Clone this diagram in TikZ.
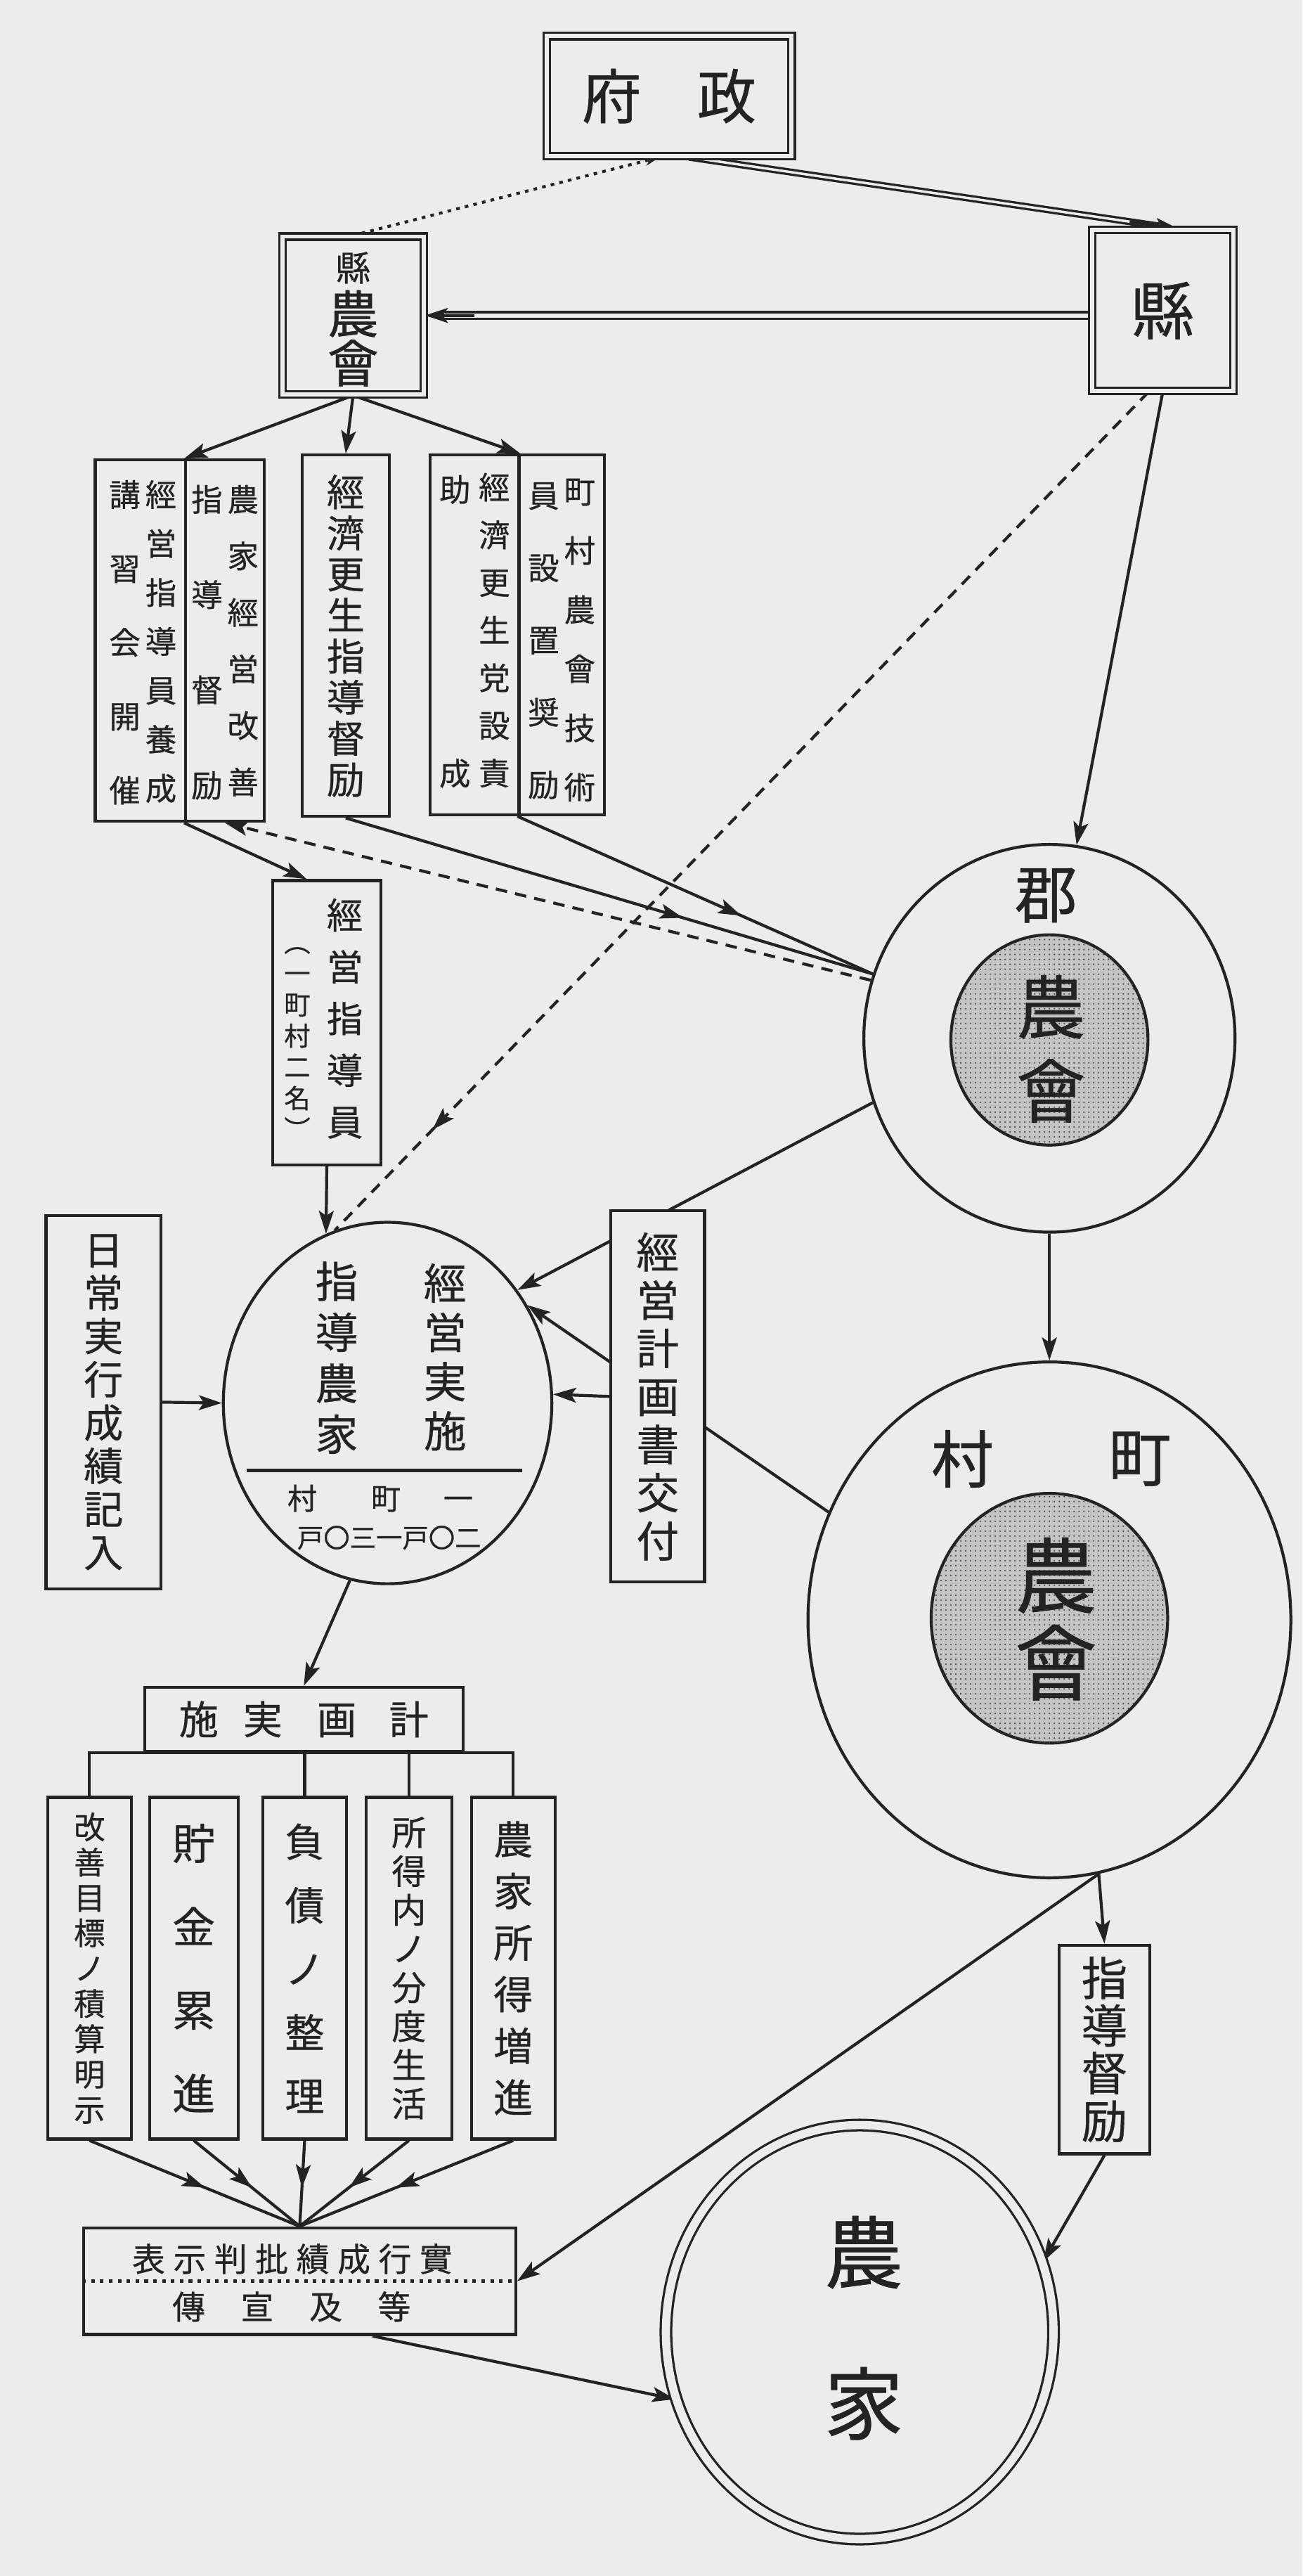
\documentclass[tikz,border=0pt]{standalone}
\usepackage{fontspec}
\newfontfamily\cjk[FakeBold=0.6]{Noto Sans CJK JP}
\usetikzlibrary{shapes.geometric,arrows.meta,decorations.markings,patterns,calc}
\definecolor{paper}{RGB}{236,236,236}
\definecolor{ink}{RGB}{35,35,35}
\definecolor{dotfill}{RGB}{196,196,196}
\definecolor{dotink}{RGB}{70,70,70}
\newcommand{\myfs}[2]{\cjk\fontsize{#1}{#2}\selectfont\lineskiplimit=-100pt}
\pgfdeclarelayer{paperlayer}
\pgfdeclarelayer{lines}
\pgfsetlayers{paperlayer,lines,main}
\begin{document}
\begin{tikzpicture}[x=1pt,y=-1pt,
 ln/.style={draw=ink, line width=1.8pt},
 arr/.style={ln, -{Stealth[length=14pt,width=9pt,inset=3pt]}},
 midarr/.style={ln, postaction={decorate, decoration={markings, mark=at position #1 with {\arrow{Stealth[length=14pt,width=9pt,inset=3pt]}}}}},
 midarr/.default=0.6,
 dashln/.style={dash pattern=on 7pt off 5pt},
 dotln/.style={draw=ink, line width=1.8pt, dash pattern=on 2.2pt off 3.2pt},
 box/.style={draw=ink, line width=1.8pt, fill=paper, inner sep=0pt, align=center, text=ink},
 dbox/.style={box, double=paper, double distance=2.5pt, line width=1.4pt},
 txt/.style={inner sep=0pt, align=center, text=ink},
 oval/.style={ellipse, draw=ink, line width=1.8pt, fill=paper, inner sep=0pt},
 dotoval/.style={oval, fill=dotfill, postaction={pattern=dots, pattern color=dotink}}
]
\begin{pgfonlayer}{paperlayer}
\fill[paper] (0,0) rectangle (793,1568);
\end{pgfonlayer}
\useasboundingbox (0,0) rectangle (793,1568);

% ---- top
\node[dbox, minimum width=149pt, minimum height=73pt, font=\myfs{36}{36}] (seifu) at (407.5,58.5) {府\hspace{34pt}政};
\node[dbox, minimum width=86pt, minimum height=96pt] (kennokai) at (215,192) {};
\node[txt, font=\myfs{21}{21}] (knT1) at (215,163) {縣};
\node[txt, font=\myfs{31}{31}] (knT2) at (215,191) {農};
\node[txt, font=\myfs{31}{31}] (knT3) at (215,221) {會};
\node[dbox, minimum width=86pt, minimum height=98pt, font=\myfs{38}{38}] (ken) at (708,189) {縣};

% ---- group boxes
\node[box, minimum width=55pt, minimum height=220pt] (gAL) at (85.5,390) {};
\node[box, minimum width=48pt, minimum height=220pt] (gAR) at (137,390) {};
\node[box, minimum width=53pt, minimum height=220pt, font=\myfs{23}{25}] (gB) at (210.5,387) {經\\濟\\更\\生\\指\\導\\督\\励};
\node[box, minimum width=54pt, minimum height=219pt] (gCL) at (289,386.5) {};
\node[box, minimum width=52pt, minimum height=219pt] (gCR) at (342,386.5) {};
\node[txt, font=\myfs{19}{34.4}] (tA1) at (148,390) {農\\家\\經\\営\\改\\善};
\node[txt, font=\myfs{19}{58}] (tA2) at (126,391) {指\\導\\督\\励};
\node[txt, font=\myfs{19}{29.8}] (tA3) at (98,390.5) {經\\営\\指\\導\\員\\養\\成};
\node[txt, font=\myfs{19}{45}] (tA4) at (76,391) {講\\習\\会\\開\\催};
\node[txt, font=\myfs{19}{36}] (tC1) at (353,389.6) {町\\村\\農\\會\\技\\術};
\node[txt, font=\myfs{19}{44}] (tC2) at (331,390) {員\\設\\置\\奨\\励};
\node[txt, font=\myfs{19}{29}] (tC3) at (301,383.6) {經\\濟\\更\\生\\党\\設\\責};
\node[txt, font=\myfs{19}{172.7}] (tC4) at (277,384.4) {助\\成};

% ---- management guidance staff
\node[box, minimum width=66pt, minimum height=173pt] (kshido) at (199,622.5) {};
\node[txt, font=\myfs{22}{31.5}] (tK1) at (210,620) {經\\営\\指\\導\\員};
\node[txt, font=\myfs{16}{19}] (tK2) at (181,635) {︵\\一\\町\\村\\二\\名\\︶};

% ---- gun
\node[oval, minimum width=226pt, minimum height=236pt] (gun) at (639,632) {};
\node[dotoval, minimum width=120pt, minimum height=128pt] (gunin) at (639,633) {};
\node[txt, font=\myfs{38}{38}] (gunT1) at (637,545) {郡};
\node[txt, font=\myfs{42}{42}] (gunT2) at (640,613) {農};
\node[txt, font=\myfs{42}{42}] (gunT3) at (640,664) {會};

% ---- machi
\node[oval, minimum width=294pt, minimum height=314pt] (machi) at (639,986) {};
\node[dotoval, minimum width=144pt, minimum height=152pt] (machiin) at (639,985) {};
\node[txt, font=\myfs{38}{38}] (mT1) at (586,888) {村};
\node[txt, font=\myfs{38}{38}] (mT2) at (694,888) {町};
\node[txt, font=\myfs{50}{50}] (mT3) at (643,959) {農};
\node[txt, font=\myfs{50}{50}] (mT4) at (643,1012) {會};

% ---- guidance farm circle
\node[oval, minimum width=200pt, minimum height=220pt] (shido) at (236,854) {};
\draw[ln, line width=2.2pt] ($(shido.center)+(-86,41)$) -- ($(shido.center)+(82,41)$);
\node[txt, font=\myfs{26}{31}] (tS1) at (205,826.5) {指\\導\\農\\家};
\node[txt, font=\myfs{26}{30}] (tS2) at (271,826) {經\\営\\実\\施};
\node[txt, font=\myfs{18}{18}] (tS3) at (231.5,912) {村\hspace{33pt}町\hspace{26pt}一};
\node[txt, font=\myfs{16}{16}] (tS4) at (237,936) {戸〇三一戸〇二};

\node[box, minimum width=70pt, minimum height=227pt, font=\myfs{24}{26.3}] (nichijo) at (63,853.5) {日\\常\\実\\行\\成\\績\\記\\入};
\node[box, minimum width=57pt, minimum height=226pt, font=\myfs{26}{29.3}] (keiei) at (400.5,850) {經\\営\\計\\画\\書\\交\\付};

% ---- plan boxes
\node[box, minimum width=194pt, minimum height=39pt, font=\myfs{24}{24}] (keikaku) at (185,1046.5) {施\hspace{15pt}実\hspace{21pt}画\hspace{20pt}計};
\node[box, minimum width=51pt, minimum height=208pt, font=\myfs{19}{21.5}] (b1) at (54.5,1198) {改\\善\\目\\標\\ノ\\積\\算\\明\\示};
\node[box, minimum width=54pt, minimum height=208pt, font=\myfs{26}{50.7}] (b2) at (118,1198) {貯\\金\\累\\進};
\node[box, minimum width=51pt, minimum height=208pt, font=\myfs{24}{38.7}] (b3) at (185.5,1198) {負\\債\\ノ\\整\\理};
\node[box, minimum width=52pt, minimum height=208pt, font=\myfs{21}{23.6}] (b4) at (249,1198) {所\\得\\内\\ノ\\分\\度\\生\\活};
\node[box, minimum width=51pt, minimum height=208pt, font=\myfs{24}{31.4}] (b5) at (312.5,1198) {農\\家\\所\\得\\増\\進};

\node[box, minimum width=263pt, minimum height=65pt] (jisseki) at (182.5,1388.5) {};
\draw[dotln] (jisseki.west) -- (jisseki.east);
\node[txt, font=\myfs{20}{20}] (jT1) at (178,1375) {表\hspace{5pt}示\hspace{5pt}判\hspace{5pt}批\hspace{5pt}績\hspace{5pt}成\hspace{5pt}行\hspace{5pt}實};
\node[txt, font=\myfs{20}{20}] (jT2) at (177.5,1404) {傳\hspace{21.7pt}宣\hspace{21.7pt}及\hspace{21.7pt}等};

\node[box, minimum width=55pt, minimum height=127pt, font=\myfs{28}{29}] (stoku) at (672.5,1247.5) {指\\導\\督\\励};
\node[oval, double=paper, double distance=5pt, line width=1.4pt, minimum width=236pt, minimum height=252pt] (nouka) at (523.5,1419.5) {};
\node[txt, font=\myfs{48}{48}] (nT1) at (526,1371) {農};
\node[txt, font=\myfs{48}{48}] (nT2) at (526,1463) {家};

% ---- connectors
\begin{pgfonlayer}{lines}
\draw[ln, double=paper, double distance=1.5pt, line width=1.4pt, shorten >=12pt] (seifu.-72) -- (ken.79);
\draw[arr] ($(seifu.-72)!0.9!(ken.79)$) -- (ken.79);
\draw[ln, double=paper, double distance=2.5pt, line width=1.5pt, shorten >=12pt] (kennokai.east -| ken.west) -- (kennokai.east);
\draw[arr] ($(kennokai.east)+(30,0)$) -- (kennokai.east);
\draw[dotln, -{Stealth[length=9pt,width=6pt]}] (kennokai.north) -- (seifu.-99);

\draw[arr] (kennokai.south) -- (gAR.north west);
\draw[arr] (kennokai.south) -- (gB.north);
\draw[arr] (kennokai.south) -- (gCL.north east);

\draw[arr] (gAR.south west) -- (kshido.98);
\draw[arr, dashln] (gun.162) -- (gAR.south);
\draw[midarr=0.64] (gB.south) -- (gun.160);
\draw[midarr=0.63] (gCR.south west) -- (gun.160);

\draw[arr] (ken.south) -- (gun.82);
\draw[midarr=0.88, dashln] (ken.-100) -- (shido.107);
\draw[arr] (kshido.south) -- (shido.110);
\draw[arr] (nichijo.east) -- (shido.west);
\draw[arr] (gun.200) -- (shido.41);
\draw[arr] (machi.154) -- (shido.35);
\draw[arr] (keiei.west) -- (shido.3);
\draw[arr] (gun.south) -- (machi.north);
\draw[arr] (shido.258) -- (keikaku.north);

\draw[ln] (b1.north) |- (keikaku.south) -| (b5.north);
\draw[ln] (b3.north) -- (b3.north |- keikaku.south);
\draw[ln] (b4.north) -- (b4.north |- keikaku.south);
\foreach \b in {b1,b2,b3,b4,b5} \draw[midarr=0.55] (\b.south) -- (jisseki.north);

\draw[arr] (machi.281) -- (jisseki.east);
\draw[arr] (machi.281) -- (stoku.north);
\draw[arr] (stoku.south) -- (nouka.21);
\draw[arr] (jisseki.-37) -- (nouka.200);
\end{pgfonlayer}
\end{tikzpicture}
\end{document}
